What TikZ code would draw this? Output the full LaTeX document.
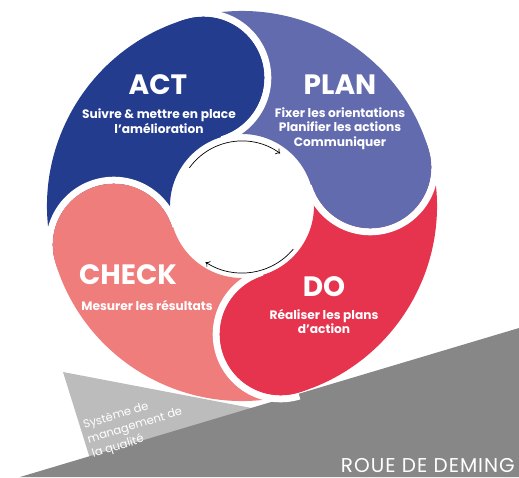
\documentclass[tikz,border=0pt]{standalone}
\usepackage{fontspec}
\setmainfont{Poppins}
\newfontfamily\widefont{Poppins}[LetterSpace=5]
\usetikzlibrary{arrows.meta}
\definecolor{actblue}{HTML}{233C8E}
\definecolor{planblue}{HTML}{636BAF}
\definecolor{dored}{HTML}{E6344F}
\definecolor{checkpink}{HTML}{EF7D7B}
\definecolor{lightgrey}{HTML}{BCBCBC}
\definecolor{darkgrey}{HTML}{878787}
\begin{document}
\begin{tikzpicture}[x=1pt,y=1pt,
  title/.style={text=white,font=\bfseries\fontsize{28}{28}\selectfont},
  subtitle/.style={text=white,font=\bfseries\fontsize{12.2}{14.5}\selectfont,align=center},
  turn/.style={line width=0.7pt,-{To[length=4pt,width=7pt]}}]
\useasboundingbox (-242,-271) rectangle (277,206);
\path [fill=lightgrey] (-179,-166) -- (20,-204) -- (-150,-259) -- cycle;
\path [fill=darkgrey] (-222,-271) -- (277,-122) -- (277,-271) -- cycle;
\foreach \a/\col in {106.8/actblue,16.8/planblue,-73.2/dored,196.8/checkpink}
\path [fill=\col] (\a:72) -- (\a:195) arc[start angle=\a, end angle=\a+90, radius=195]
  -- ({\a+90}:72) arc[start angle=\a+90, end angle=\a, radius=72] -- cycle;
\foreach \a/\col in {106.8/actblue,16.8/planblue,-73.2/dored,196.8/checkpink}
{
\draw [white, line width=7] (\a:{134+64.5}) arc[start angle=\a, end angle=\a-180, radius=64.5];
\path [fill=\col] (\a:134) circle (61);
}
\draw[turn] (144:65) arc[start angle=144, end angle=54, radius=65];
\draw[turn] (-40:67) arc[start angle=-40, end angle=-123, radius=67];
\node[title] (act) at (-84,121) {ACT};
\node[subtitle] (act text) at (-83,85) {Suivre \& mettre en place\\l’amélioration};
\node[title] (plan) at (98,121) {PLAN};
\node[subtitle] (plan text) at (98,77.5) {Fixer les orientations\\Planifier les actions\\Communiquer};
\node[title] (check) at (-114,-69) {CHECK};
\node[subtitle] (check text) at (-95,-99) {Mesurer les résultats};
\node[title] (do) at (82,-81) {DO};
\node[subtitle] (do text) at (82,-115.5) {Réaliser les plans\\d’action};
\node[text=white, rotate=17, align=left, font=\fontsize{11.5}{15}\selectfont] (sys) at (-107,-220)
  {Système de\\management de\\la qualité};
\node[text=white, anchor=east, inner sep=0pt, font=\widefont\fontsize{20}{20}\selectfont] (roue) at (273,-260) {ROUE DE DEMING};
\end{tikzpicture}
\end{document}
